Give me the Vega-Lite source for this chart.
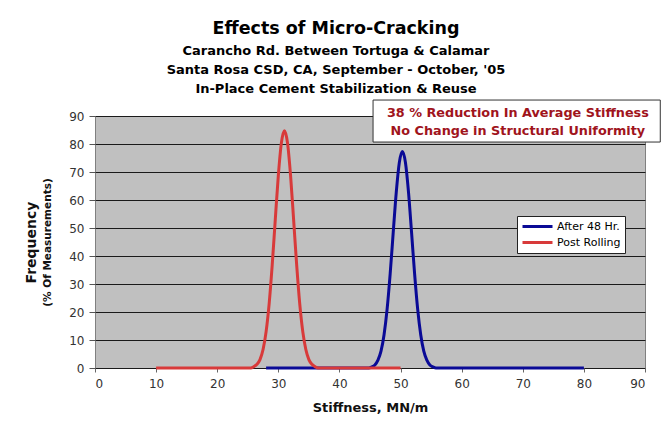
{
  "$schema": "https://vega.github.io/schema/vega-lite/v6.json",
  "width": 550,
  "height": 252,
  "autosize": "none",
  "padding": {"left": 95, "top": 116, "right": 27, "bottom": 54},
  "background": "white",
  "title": {
    "text": "Effects of Micro-Cracking",
    "subtitle": ["Carancho Rd. Between Tortuga & Calamar", "Santa Rosa CSD, CA, September - October, '05", "In-Place Cement Stabilization & Reuse"],
    "anchor": "middle",
    "dx": -34,
    "offset": 4,
    "font": "DejaVu Sans",
    "fontSize": 17.5,
    "fontWeight": "bold",
    "color": "black",
    "subtitleFont": "DejaVu Sans",
    "subtitleFontSize": 13,
    "subtitleFontWeight": "bold",
    "subtitleColor": "black",
    "subtitleLineHeight": 19,
    "subtitlePadding": 7
  },
  "config": {
    "view": {"fill": "#c0c0c0", "stroke": "#808080", "strokeWidth": 1},
    "axis": {"labelFont": "DejaVu Sans", "labelFontSize": 12, "labelColor": "#333333", "titleFont": "DejaVu Sans", "titleColor": "#111111", "titleFontWeight": "bold"}
  },
  "datasets": {
    "after48": [
      {"s": 28, "f": 0, "series": "After 48 Hr."},
      {"s": 40, "f": 0, "series": "After 48 Hr."},
      {"s": 44.8, "f": 0, "series": "After 48 Hr."},
      {"s": 45.3, "f": 0.4, "series": "After 48 Hr."},
      {"s": 45.8, "f": 1.1, "series": "After 48 Hr."},
      {"s": 46.3, "f": 2.8, "series": "After 48 Hr."},
      {"s": 46.8, "f": 6.0, "series": "After 48 Hr."},
      {"s": 47.3, "f": 11.9, "series": "After 48 Hr."},
      {"s": 47.8, "f": 21.0, "series": "After 48 Hr."},
      {"s": 48.3, "f": 33.6, "series": "After 48 Hr."},
      {"s": 48.8, "f": 48.4, "series": "After 48 Hr."},
      {"s": 49.3, "f": 62.8, "series": "After 48 Hr."},
      {"s": 49.8, "f": 73.4, "series": "After 48 Hr."},
      {"s": 50.3, "f": 77.3, "series": "After 48 Hr."},
      {"s": 50.8, "f": 73.4, "series": "After 48 Hr."},
      {"s": 51.3, "f": 62.8, "series": "After 48 Hr."},
      {"s": 51.8, "f": 48.4, "series": "After 48 Hr."},
      {"s": 52.3, "f": 33.6, "series": "After 48 Hr."},
      {"s": 52.8, "f": 21.0, "series": "After 48 Hr."},
      {"s": 53.3, "f": 11.9, "series": "After 48 Hr."},
      {"s": 53.8, "f": 6.0, "series": "After 48 Hr."},
      {"s": 54.3, "f": 2.8, "series": "After 48 Hr."},
      {"s": 54.8, "f": 1.1, "series": "After 48 Hr."},
      {"s": 55.3, "f": 0.4, "series": "After 48 Hr."},
      {"s": 55.8, "f": 0, "series": "After 48 Hr."},
      {"s": 60, "f": 0, "series": "After 48 Hr."},
      {"s": 70, "f": 0, "series": "After 48 Hr."},
      {"s": 80, "f": 0, "series": "After 48 Hr."}
    ],
    "post": [
      {"s": 10, "f": 0, "series": "Post Rolling"},
      {"s": 20, "f": 0, "series": "Post Rolling"},
      {"s": 25.5, "f": 0, "series": "Post Rolling"},
      {"s": 26, "f": 0.5, "series": "Post Rolling"},
      {"s": 26.5, "f": 1.3, "series": "Post Rolling"},
      {"s": 27, "f": 3.0, "series": "Post Rolling"},
      {"s": 27.5, "f": 6.6, "series": "Post Rolling"},
      {"s": 28, "f": 13.0, "series": "Post Rolling"},
      {"s": 28.5, "f": 23.0, "series": "Post Rolling"},
      {"s": 29, "f": 36.8, "series": "Post Rolling"},
      {"s": 29.5, "f": 53.0, "series": "Post Rolling"},
      {"s": 30, "f": 68.8, "series": "Post Rolling"},
      {"s": 30.5, "f": 80.4, "series": "Post Rolling"},
      {"s": 31, "f": 84.7, "series": "Post Rolling"},
      {"s": 31.5, "f": 80.4, "series": "Post Rolling"},
      {"s": 32, "f": 68.8, "series": "Post Rolling"},
      {"s": 32.5, "f": 53.0, "series": "Post Rolling"},
      {"s": 33, "f": 36.8, "series": "Post Rolling"},
      {"s": 33.5, "f": 23.0, "series": "Post Rolling"},
      {"s": 34, "f": 13.0, "series": "Post Rolling"},
      {"s": 34.5, "f": 6.6, "series": "Post Rolling"},
      {"s": 35, "f": 3.0, "series": "Post Rolling"},
      {"s": 35.5, "f": 1.3, "series": "Post Rolling"},
      {"s": 36, "f": 0.5, "series": "Post Rolling"},
      {"s": 36.5, "f": 0, "series": "Post Rolling"},
      {"s": 40, "f": 0, "series": "Post Rolling"},
      {"s": 50, "f": 0, "series": "Post Rolling"}
    ]
  },
  "resolve": {"axis": {"y": "independent"}},
  "layer": [
    {
      "data": {"name": "after48"},
      "mark": {"type": "line", "strokeWidth": 3, "interpolate": "monotone"},
      "encoding": {
        "x": {"field": "s", "type": "quantitative", "scale": {"domain": [0, 90], "nice": false},
          "axis": {"title": "Stiffness, MN/m", "titleFontSize": 13, "titlePadding": 12, "values": [0,5,10,15,20,25,30,35,40,45,50,55,60,65,70,75,80,85,90], "labelExpr": "datum.value % 10 === 0 ? datum.label : ''", "grid": false, "domain": false, "tickSize": 4, "tickColor": "#666666", "labelPadding": 6}},
        "y": {"field": "f", "type": "quantitative", "scale": {"domain": [0, 90], "nice": false},
          "axis": {"orient": "left", "title": "Frequency", "titleFontSize": 14, "titlePadding": 30, "values": [0,10,20,30,40,50,60,70,80,90], "grid": true, "gridColor": "#1a1a1a", "gridWidth": 1, "domain": false, "tickSize": 6, "tickColor": "#555555", "labelPadding": 5}},
        "color": {"field": "series", "type": "nominal",
          "scale": {"domain": ["After 48 Hr.", "Post Rolling"], "range": ["#0a0a96", "#d83a3a"]},
          "legend": {"title": null, "orient": "none", "legendX": 422, "legendY": 100, "symbolType": "M-1,0H5", "symbolStrokeWidth": 3, "symbolSize": 100, "symbolFillColor": "transparent", "labelFont": "DejaVu Sans", "labelFontSize": 11, "labelColor": "black", "fillColor": "white", "strokeColor": "#222222", "padding": 4, "rowPadding": 3, "labelOffset": 23}}
      }
    },
    {
      "data": {"name": "post"},
      "mark": {"type": "line", "strokeWidth": 3, "interpolate": "monotone"},
      "encoding": {
        "x": {"field": "s", "type": "quantitative"},
        "y": {"field": "f", "type": "quantitative",
          "axis": {"orient": "left", "title": "(% Of Measurements)", "titleFontSize": 10.5, "titlePadding": 43, "labels": false, "ticks": false, "domain": false, "grid": false}},
        "color": {"field": "series", "type": "nominal"}
      }
    },
    {
      "data": {"values": [{}]},
      "mark": {"type": "rect", "fill": "white", "stroke": "#333333", "strokeWidth": 1},
      "encoding": {
        "x": {"datum": 45.5},
        "x2": {"datum": 92.5},
        "y": {"datum": 95.7, "axis": null},
        "y2": {"datum": 80.7}
      }
    },
    {
      "data": {"values": [{}]},
      "mark": {"type": "text", "text": ["38 % Reduction In Average Stiffness", "No Change in Structural Uniformity"], "font": "DejaVu Sans", "fontSize": 12.8, "fontWeight": "bold", "color": "#a0141c", "lineHeight": 18, "align": "center", "baseline": "middle"},
      "encoding": {
        "x": {"datum": 69.2},
        "y": {"datum": 91.1, "axis": null}
      }
    }
  ]
}
